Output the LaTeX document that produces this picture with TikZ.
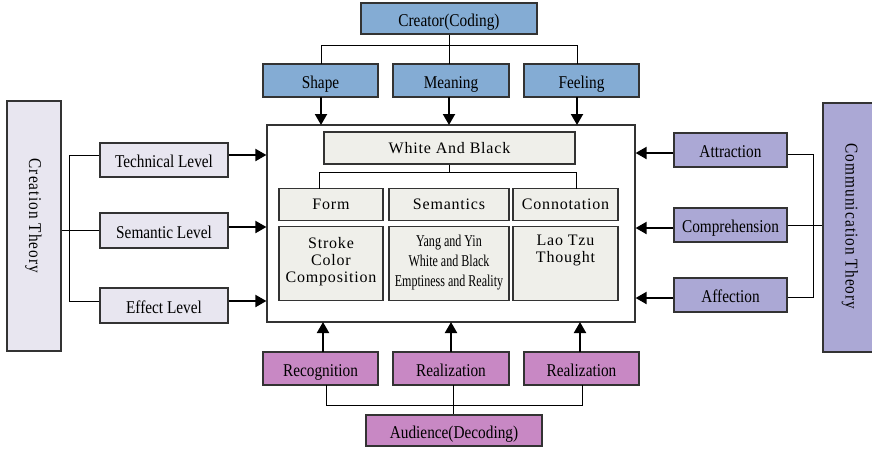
\documentclass[tikz,border=0pt]{standalone}
\usepackage{fontspec}
\setmainfont{Liberation Serif}
\newfontfamily\outerf[FakeStretch=0.85]{Liberation Serif}
\newfontfamily\innerf[LetterSpace=5]{Liberation Serif}
\newfontfamily\condf[FakeStretch=0.73]{Liberation Serif}
\newfontfamily\vertf[FakeStretch=0.85,LetterSpace=6]{Liberation Serif}
\usetikzlibrary{arrows.meta}
\definecolor{cblue}{HTML}{84ACD4}
\definecolor{cmag}{HTML}{C888C4}
\definecolor{clav}{HTML}{ABA8D5}
\definecolor{clight}{HTML}{E8E6F0}
\definecolor{cgray}{HTML}{EFEFEA}
\definecolor{cline}{HTML}{333333}
\tikzset{
  box/.style={draw=cline, line width=1.2pt, inner sep=0pt, text height=15.5pt, text depth=0pt, font=\outerf\fontsize{18}{20}\selectfont},
  bluebox/.style={box, fill=cblue},
  magbox/.style={box, fill=cmag},
  lavbox/.style={box, fill=clav},
  lightbox/.style={box, fill=clight},
  innerbox/.style={box, fill=cgray, text height=10.6pt, text depth=0pt, font=\innerf\fontsize{16}{18}\selectfont},
  plainbox/.style={draw=cline, line width=1.2pt, inner sep=0pt},
  inline/.style={anchor=base, inner sep=0pt, font=\innerf\fontsize{16}{18}\selectfont},
  condline/.style={anchor=base, inner sep=0pt, font=\condf\fontsize{16.5}{18}\selectfont},
  vtext/.style={font=\vertf\fontsize{18}{20}\selectfont, rotate=-90},
  conn/.style={draw=black, line width=1pt},
  arr/.style={draw=black, line width=2pt, -{Triangle[length=11pt,width=12pt]}},
}
\begin{document}
\begin{tikzpicture}[x=1pt,y=-1pt]
\useasboundingbox (0,0) rectangle (872,448);
% top
\node[bluebox, minimum width=176, minimum height=31] (creator) at (449,18.5) {Creator(Coding)};
\node[bluebox, minimum width=115, minimum height=33] (shape) at (320.5,80.5) {Shape};
\node[bluebox, minimum width=116, minimum height=33] (meaning) at (451,80.5) {Meaning};
\node[bluebox, minimum width=115, minimum height=33] (feeling) at (581.5,80.5) {Feeling};
% main
\node[plainbox, fill=white, minimum width=368, minimum height=197] (main) at (451,223.5) {};
\node[innerbox, minimum width=251, minimum height=32] (wab) at (449.5,148) {White And Black};
\node[innerbox, minimum width=104, minimum height=32] (form) at (331,204.5) {Form};
\node[innerbox, minimum width=120, minimum height=32] (sem) at (449,204.5) {Semantics};
\node[innerbox, minimum width=105, minimum height=32] (con) at (565.5,204.5) {Connotation};
\node[plainbox, fill=cgray, minimum width=104, minimum height=74, anchor=north] (formd) at (331,226) {};
\node[plainbox, fill=cgray, minimum width=120, minimum height=74, anchor=north] (semd) at (449,226) {};
\node[plainbox, fill=cgray, minimum width=105, minimum height=74, anchor=north] (cond) at (565.5,226) {};
\node[inline] (formt1) at (331,248.3) {Stroke};
\node[inline] (formt2) at (331,265.3) {Color};
\node[inline] (formt3) at (331,282.3) {Composition};
\node[condline] (semt1) at (449,246) {Yang and Yin};
\node[condline] (semt2) at (449,266.5) {White and Black};
\node[condline] (semt3) at (449,286.7) {Emptiness and Reality};
\node[inline] (cont1) at (565.5,245) {Lao Tzu};
\node[inline] (cont2) at (565.5,262.7) {Thought};
% left
\node[lightbox, minimum width=54, minimum height=250] (creation) at (34,226) {};
\node[vtext] (creationt) at (33.5,216) {Creation Theory};
\node[lightbox, minimum width=128, minimum height=34] (tech) at (164,160) {Technical Level};
\node[lightbox, minimum width=128, minimum height=35] (seml) at (164,230.5) {Semantic Level};
\node[lightbox, minimum width=128, minimum height=35] (eff) at (164,305.5) {Effect Level};
% right
\node[lavbox, minimum width=113, minimum height=34] (attr) at (730.5,150) {Attraction};
\node[lavbox, minimum width=113, minimum height=34] (comp) at (730.5,225) {Comprehension};
\node[lavbox, minimum width=113, minimum height=34] (aff) at (730.5,295) {Affection};
\node[lavbox, minimum width=56, minimum height=249] (comm) at (851,227.5) {};
\node[vtext] (commt) at (850,226.5) {Communication Theory};
% bottom
\node[magbox, minimum width=115, minimum height=33] (recog) at (320.5,368.5) {Recognition};
\node[magbox, minimum width=116, minimum height=33] (real1) at (451,368.5) {Realization};
\node[magbox, minimum width=115, minimum height=33] (real2) at (581.5,368.5) {Realization};
\node[magbox, minimum width=176, minimum height=31] (aud) at (454,430.5) {Audience(Decoding)};
% top connectors
\draw[conn] (creator.south) -- (449,45);
\draw[conn] (321,64) -- (321,45) -- (577,45) -- (577,64);
\draw[conn] (449,45) -- (449,64);
\draw[arr] (321,97) -- (321,125);
\draw[arr] (449,97) -- (449,125);
\draw[arr] (577,97) -- (577,125);
% inner connectors
\draw[conn] (wab.south) -- (449.5,172);
\draw[conn] (319,188.5) -- (319,172) -- (576,172) -- (576,188.5);
% left connectors
\draw[conn] (tech.west |- 0,155) -- (69,155) -- (69,301) -- (eff.west |- 0,301);
\draw[conn] (creation.east |- 0,230) -- (seml.west |- 0,230);
\draw[arr] (tech.east |- 0,155) -- (main.west |- 0,155);
\draw[arr] (seml.east |- 0,227) -- (main.west |- 0,227);
\draw[arr] (eff.east |- 0,301) -- (main.west |- 0,301);
% right connectors
\draw[conn] (attr.east |- 0,154) -- (813,154) -- (813,297) -- (aff.east |- 0,297);
\draw[conn] (comp.east) -- (comm.west |- comp.east);
\draw[arr] (attr.west |- 0,153) -- (main.east |- 0,153);
\draw[arr] (comp.west |- 0,228) -- (main.east |- 0,228);
\draw[arr] (aff.west |- 0,298) -- (main.east |- 0,298);
% bottom connectors
\draw[arr] (323,352) -- (323,322);
\draw[arr] (451,352) -- (451,322);
\draw[arr] (580,352) -- (580,322);
\draw[conn] (326,385) -- (326,405) -- (582,405) -- (582,385);
\draw[conn] (453,385) -- (aud.north -| 453,0);
\end{tikzpicture}
\end{document}
